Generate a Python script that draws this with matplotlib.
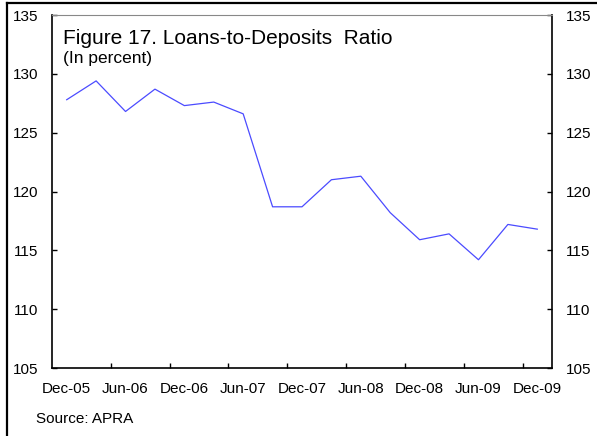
import matplotlib
matplotlib.use("Agg")
import matplotlib.pyplot as plt
from matplotlib.lines import Line2D

plt.rcParams['font.family'] = ['Liberation Sans', 'DejaVu Sans']

# quarterly data, Dec-05 .. Dec-09
quarters = ['Dec-05', 'Mar-06', 'Jun-06', 'Sep-06', 'Dec-06', 'Mar-07', 'Jun-07',
            'Sep-07', 'Dec-07', 'Mar-08', 'Jun-08', 'Sep-08', 'Dec-08', 'Mar-09',
            'Jun-09', 'Sep-09', 'Dec-09']
ratio = [127.8, 129.4, 126.8, 128.7, 127.3, 127.6, 126.6, 118.7, 118.7, 121.0,
         121.3, 118.2, 115.9, 116.4, 114.2, 117.2, 116.8]

fig = plt.figure(figsize=(5.97, 4.36), dpi=100)
ax = fig.add_axes([52/597, 68/436, 500/597, 353/436])

x = list(range(len(quarters)))
ax.plot(x, ratio, color='#4b4bff', linewidth=0.9)

ax.set_xlim(-0.5, len(quarters) - 0.5)
ax.set_ylim(105, 135)
ax.set_yticks(range(105, 136, 5))

# labels every other quarter, tick marks between categories
ax.set_xticks(x[::2])
ax.set_xticklabels(quarters[::2])
ax.set_xticks([i + 1.5 for i in x[:-2:2]], minor=True)
ax.tick_params(axis='x', which='major', length=0, pad=10, labelsize=11)
ax.tick_params(axis='x', which='minor', direction='in', length=3.6, width=1)
ax.tick_params(axis='y', direction='in', length=3.6, width=1, pad=10,
               labelsize=11, left=True, right=True, labelleft=True, labelright=True)

for side in ['left', 'right', 'bottom']:
    ax.spines[side].set_linewidth(1.2)
ax.spines['top'].set_color('#888888')
ax.spines['top'].set_linewidth(0.8)

fig.text(63/597, 1 - 44/436, 'Figure 17. Loans-to-Deposits  Ratio', fontsize=15, va='baseline')
fig.text(63/597, 1 - 63.5/436, '(In percent)', fontsize=12.5, va='baseline')
fig.text(36/597, 1 - 423/436, 'Source: APRA', fontsize=11, va='baseline')

# outer frame (left and top edges visible)
fig.add_artist(Line2D([7/597, 7/597], [0, 1 - 3.5/436], color='black', linewidth=1.6,
                      transform=fig.transFigure))
fig.add_artist(Line2D([7/597, 1], [1 - 3.5/436, 1 - 3.5/436], color='black', linewidth=1.6,
                      transform=fig.transFigure))

plt.savefig('out.png', dpi=100)
